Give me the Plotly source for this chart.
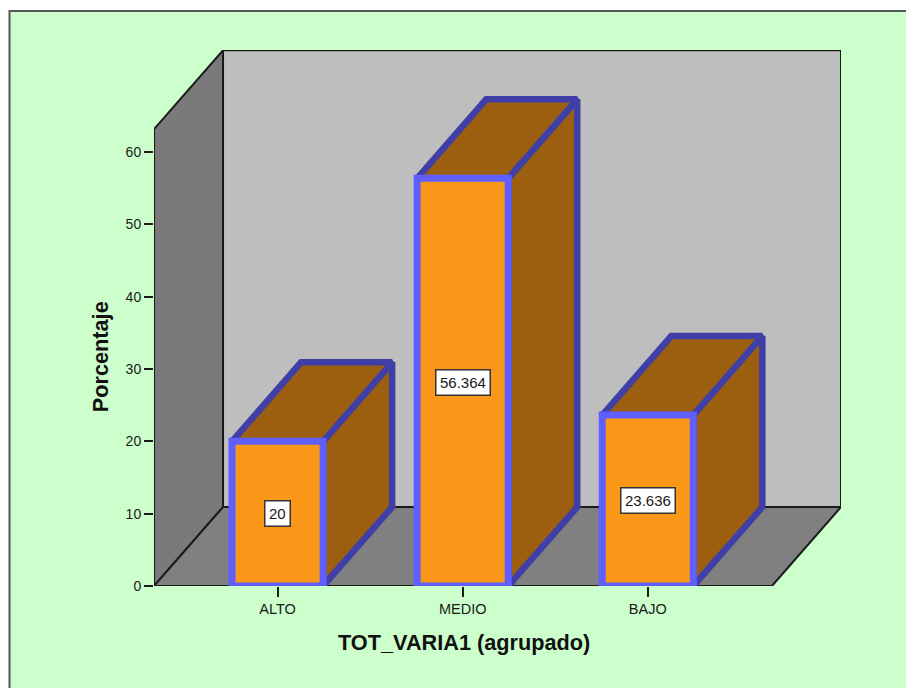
import plotly.graph_objects as go

categories = ["ALTO", "MEDIO", "BAJO"]
values = [20, 56.364, 23.636]
y_ticks = [0, 10, 20, 30, 40, 50, 60]
x_title = "TOT_VARIA1 (agrupado)"
y_title = "Porcentaje"

WALL_TOP = 63.15
DEPTH_Y = 10.92
DEPTH_X = 0.373
HALF = 0.246
X_MIN = -0.6676
X_MAX = 3.044
Y_MAX = 74.1

BG = "#CCFFCC"
FRAME = "#555555"
INK = "#1A1A1A"
FONT = "Liberation Sans, Arial, sans-serif"

fig = go.Figure()


def poly(xs, ys, fill, line, width):
    fig.add_trace(go.Scatter(
        x=xs + xs[:1], y=ys + ys[:1], mode="lines", fill="toself", fillcolor=fill,
        line=dict(color=line, width=width), hoverinfo="skip", showlegend=False,
        cliponaxis=False,
    ))


x_back_left = X_MIN + DEPTH_X
x_front_right = X_MAX - DEPTH_X
# left wall, back wall, floor
poly([X_MIN, x_back_left, x_back_left, X_MIN],
     [0, DEPTH_Y, WALL_TOP + DEPTH_Y, WALL_TOP], "#7A7A7A", INK, 2)
poly([x_back_left, X_MAX, X_MAX, x_back_left],
     [DEPTH_Y, DEPTH_Y, WALL_TOP + DEPTH_Y, WALL_TOP + DEPTH_Y], "#BEBEBE", INK, 2)
poly([X_MIN, x_back_left, X_MAX, x_front_right],
     [0, DEPTH_Y, DEPTH_Y, 0], "#808080", INK, 2)

for i, v in enumerate(values):
    l, r = i - HALF, i + HALF
    # side face
    poly([r, r + DEPTH_X, r + DEPTH_X, r],
         [0, DEPTH_Y, v + DEPTH_Y, v], "#9C5F10", "#3F3FA8", 6.5)
    # top face
    poly([l, l + DEPTH_X, r + DEPTH_X, r],
         [v, v + DEPTH_Y, v + DEPTH_Y, v], "#9C5F10", "#3F3FA8", 6.5)
    # front face
    poly([l, r, r, l], [0, 0, v, v], "#FB9718", "#5F5FFF", 7)

annotations = [
    dict(x=i, y=v / 2, text=f"{v:g}", showarrow=False, bgcolor="white",
         bordercolor="#333333", borderwidth=1.5, borderpad=3.5,
         font=dict(family=FONT, size=15, color=INK))
    for i, v in enumerate(values)
]
annotations.append(dict(
    x=1.005, xref="x", y=-0.1045, yref="paper", text=f"<b>{x_title}</b>", showarrow=False,
    font=dict(family=FONT, size=21.7, color="#111111"), yanchor="middle",
))
annotations.append(dict(
    x=-0.0785, xref="paper", y=0.427, yref="paper", text=f"<b>{y_title}</b>", showarrow=False,
    textangle=-90, font=dict(family=FONT, size=21.7, color="#111111"), xanchor="center",
    yanchor="middle",
))

fig.update_layout(
    width=906, height=688, autosize=False,
    margin=dict(l=154, r=65, t=50, b=102, pad=0),
    paper_bgcolor="white", plot_bgcolor="rgba(0,0,0,0)",
    showlegend=False,
    xaxis=dict(range=[X_MIN, X_MAX], tickmode="array", tickvals=list(range(len(categories))),
               ticktext=categories, ticks="outside", ticklen=10, tickwidth=2, tickcolor=INK,
               tickfont=dict(family=FONT, size=14.5, color=INK), showgrid=False, zeroline=False,
               showline=False),
    yaxis=dict(range=[0, Y_MAX], tickmode="array", tickvals=y_ticks, ticks="outside",
               ticklen=9, tickwidth=2, tickcolor=INK,
               tickfont=dict(family=FONT, size=14, color=INK), showgrid=False, zeroline=False,
               showline=False),
    annotations=annotations,
    shapes=[dict(type="rect", xref="paper", yref="paper", layer="below",
                 x0=(9.5 - 154) / 687, x1=(930 - 154) / 687,
                 y0=(586 - 720) / 536, y1=(586 - 11) / 536,
                 fillcolor=BG, line=dict(color=FRAME, width=2))],
)

fig.write_html("out.html", config={"displayModeBar": False},
               post_script="document.body.style.margin='0';document.body.style.overflow='hidden';")
